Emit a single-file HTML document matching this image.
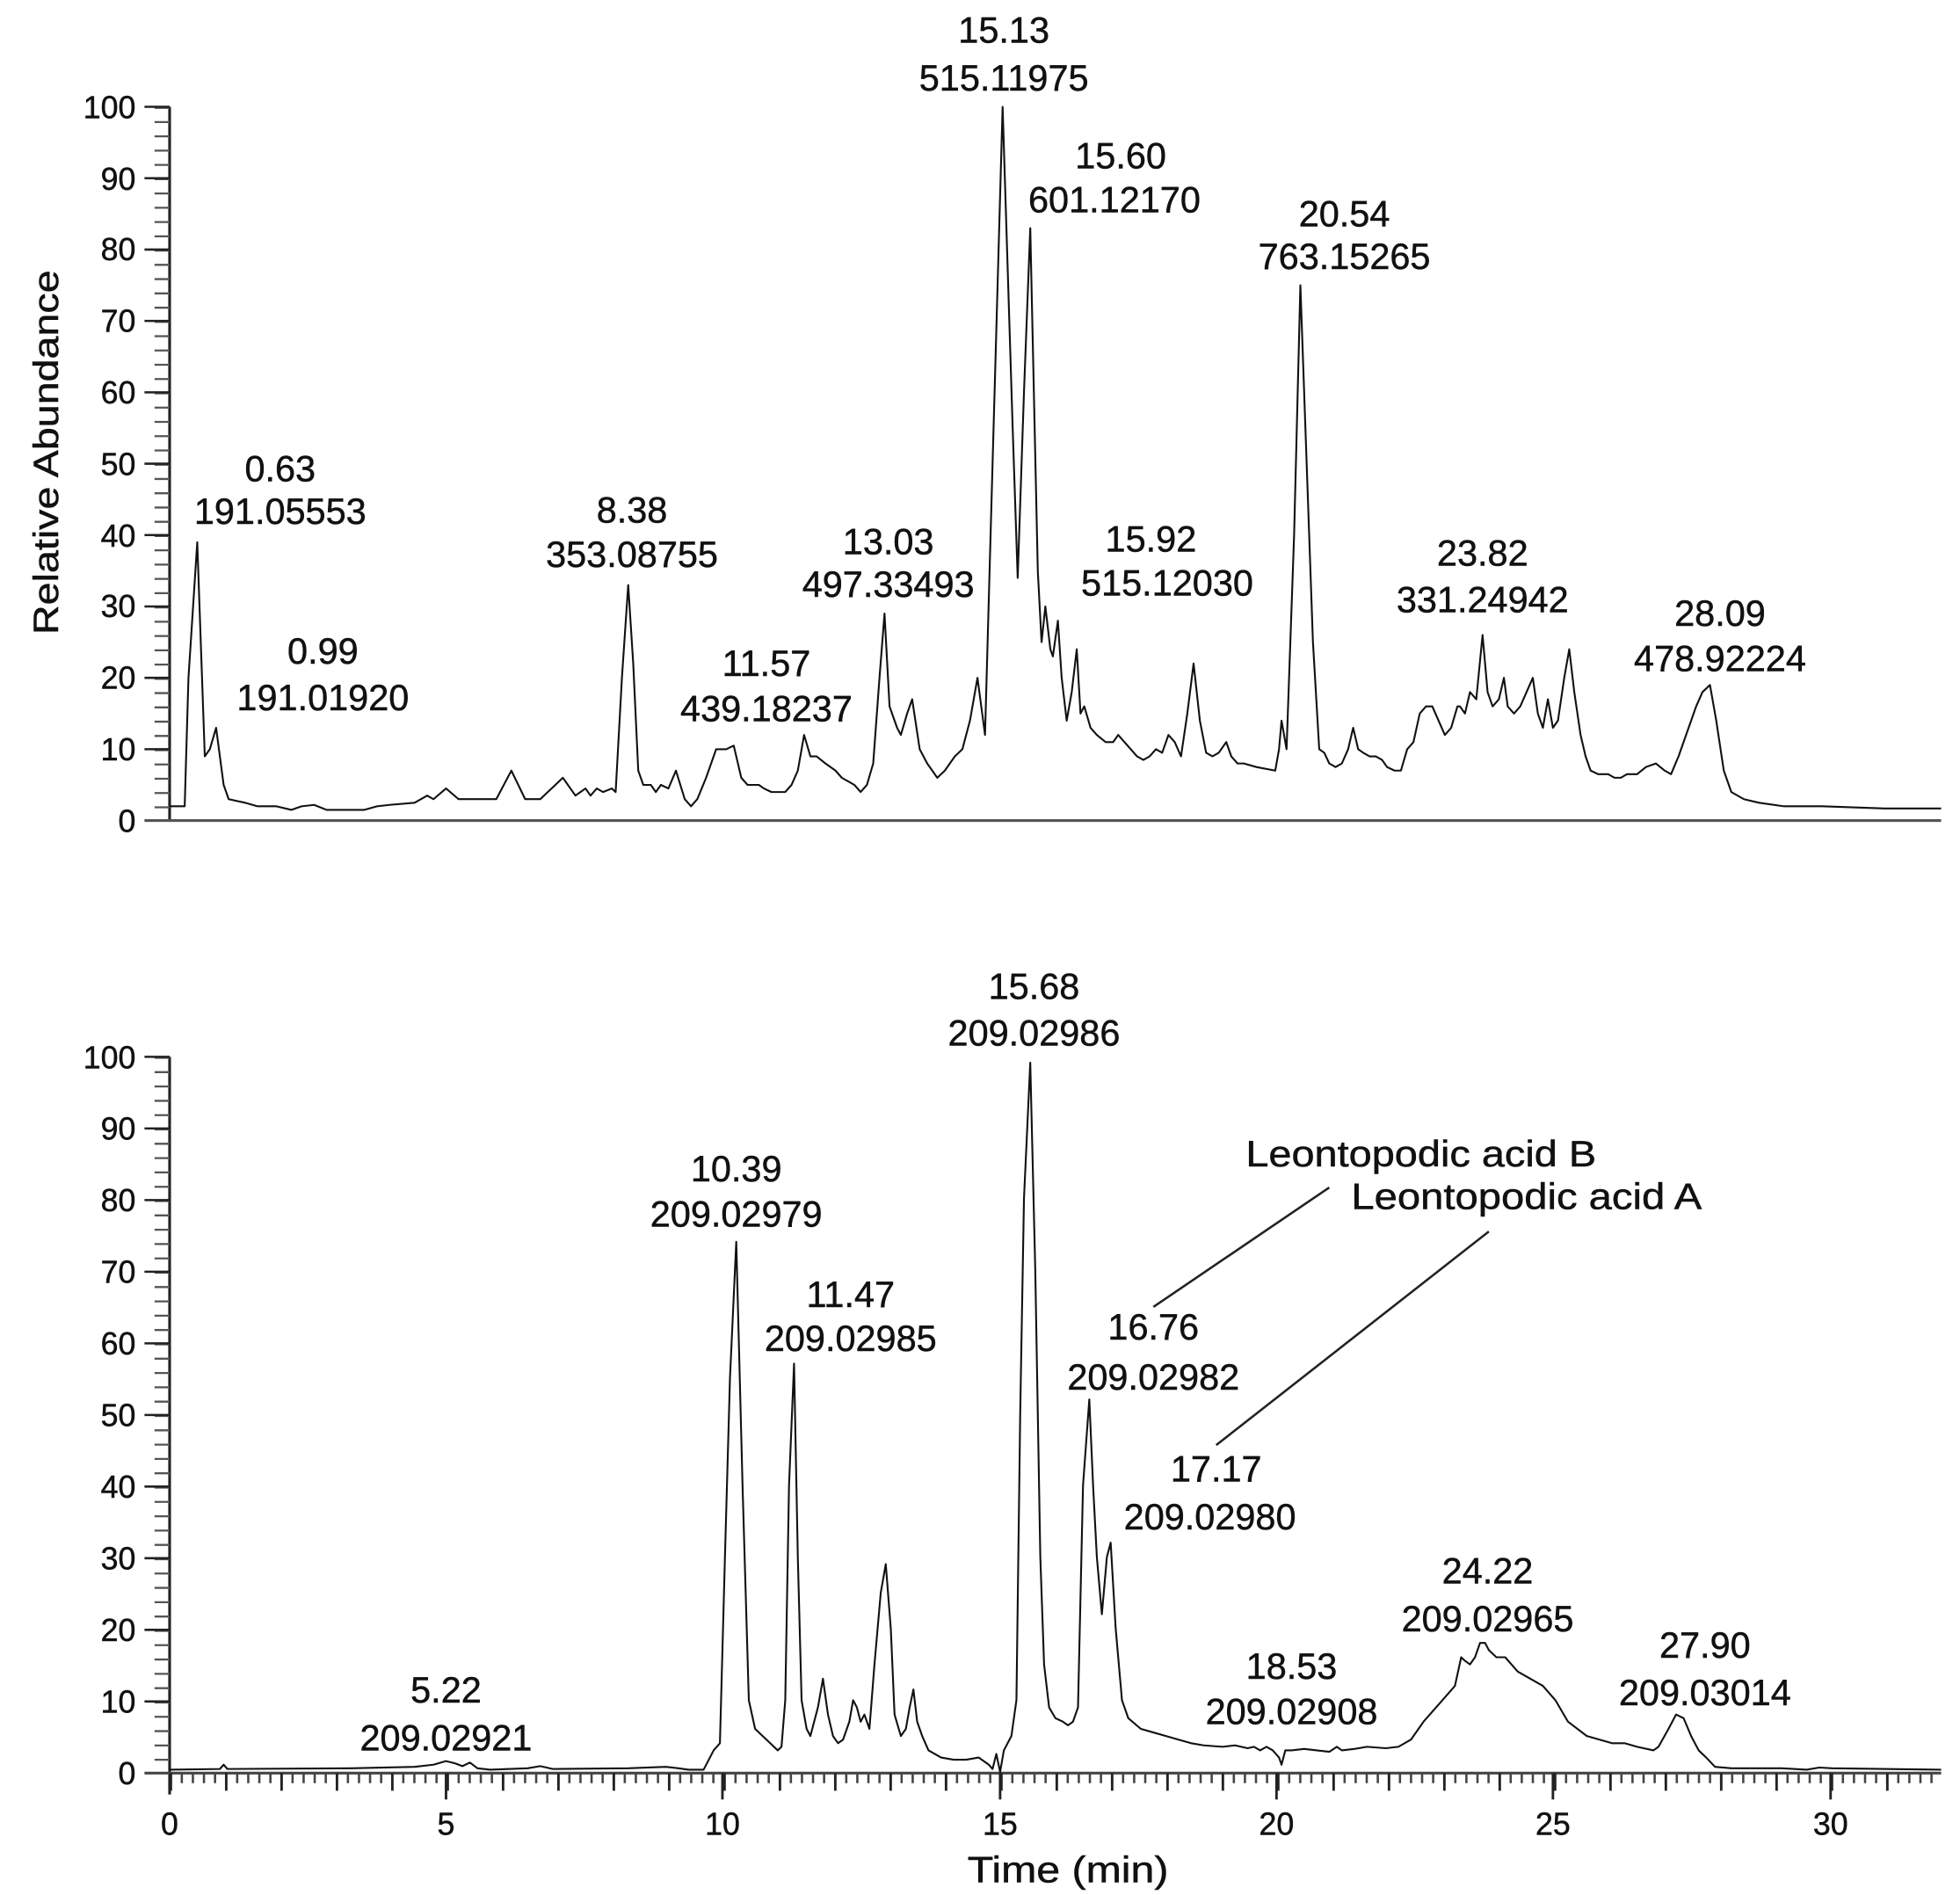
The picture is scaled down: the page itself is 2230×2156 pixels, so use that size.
<!DOCTYPE html>
<html><head><meta charset="utf-8"><style>
html,body{margin:0;padding:0;background:#fff;}
svg{display:block;}
text{font-family:"Liberation Sans",sans-serif;fill:#111;stroke:#111;stroke-width:0.35;}
</style></head><body>
<svg width="2230" height="2156" viewBox="0 0 1560 1508" preserveAspectRatio="none" xmlns="http://www.w3.org/2000/svg">
<rect width="1560" height="1508" fill="#fff"/>
<!-- TOP AXES -->
<g stroke="#222" fill="none">
<line x1="135" y1="85" x2="135" y2="654" stroke-width="2.2"/>
<line x1="115" y1="653" x2="1545" y2="653" stroke="#555" stroke-width="2.2"/>
<line x1="129" y1="85" x2="129" y2="653" stroke-width="12" stroke-dasharray="1.6 9.76" stroke="#555"/>
</g>
<g stroke="#222" stroke-width="1.8">
<line x1="115" y1="85" x2="135" y2="85"/><line x1="115" y1="141.8" x2="135" y2="141.8"/><line x1="115" y1="198.6" x2="135" y2="198.6"/><line x1="115" y1="255.4" x2="135" y2="255.4"/><line x1="115" y1="312.2" x2="135" y2="312.2"/><line x1="115" y1="369" x2="135" y2="369"/><line x1="115" y1="425.8" x2="135" y2="425.8"/><line x1="115" y1="482.6" x2="135" y2="482.6"/><line x1="115" y1="539.4" x2="135" y2="539.4"/><line x1="115" y1="596.2" x2="135" y2="596.2"/>
</g>
<g font-size="25" text-anchor="end">
<text x="108" y="94">100</text><text x="108" y="151">90</text><text x="108" y="207">80</text><text x="108" y="264">70</text><text x="108" y="321">60</text><text x="108" y="378">50</text><text x="108" y="435">40</text><text x="108" y="491">30</text><text x="108" y="548">20</text><text x="108" y="605">10</text><text x="108" y="662">0</text>
</g>
<text transform="translate(46,360) rotate(-90)" font-size="28" text-anchor="middle" textLength="290" lengthAdjust="spacingAndGlyphs">Relative Abundance</text>

<g transform="matrix(1 0 0 -5.68 0 653)">
<polyline fill="none" stroke="#111" stroke-width="2.1" vector-effect="non-scaling-stroke" stroke-linejoin="round" points="135,2 147,2 150,20 157,39 163,9 167,10 172,13 178,5 182,3 195,2.5 205,2 220,2 232,1.5 240,2 250,2.2 260,1.5 270,1.5 290,1.5 300,2 310,2.2 330,2.5 340,3.5 345,3 355,4.5 365,3 375,3 395,3 407,7 418,3 430,3 448,6 458,3.5 462,4 466,4.5 470,3.5 475,4.5 480,4 487,4.5 490,4 495,20 500,33 504,22 508,7 512,5 518,5 522,4 526,5 532,4.5 538,7 545,3 550,2 555,3 562,6 570,10 578,10 584,10.5 590,6 595,5 604,5 608,4.5 614,4 620,4 625,4 630,5 635,7 640,12 645,9 650,9 657,8 665,7 670,6 680,5 685,4 690,5 695,8 700,20 704,29 708,16 714,13 717,12 722,15 726,17 732,10 738,8 746,6 752,7 760,9 766,10 772,14 778,20 784,12 790,50 798,100 806,55 810,34 815,60 820,83 826,35 829,25 832,30 836,24 838,23 842,28 845,20 849,14 853,18 857,24 860,15 863,16 868,13 873,12 880,11 886,11 890,12 895,11 900,10 905,9 910,8.5 915,9 920,10 925,9.5 930,12 935,11 940,9 945,15 950,22 955,14 960,9.5 965,9 970,9.5 976,11 980,9 985,8 990,8 1000,7.5 1015,7 1018,10 1020,14 1024,10 1030,40 1035,75 1040,50 1045,25 1050,10 1054,9.5 1058,8 1063,7.5 1068,8 1073,10 1077,13 1081,10 1085,9.5 1090,9 1095,9 1100,8.5 1104,7.5 1110,7 1115,7 1120,10 1125,11 1130,15 1135,16 1140,16 1145,14 1150,12 1155,13 1160,16 1162,16 1166,15 1170,18 1175,17 1180,26 1184,18 1188,16 1193,17 1197,20 1200,16 1205,15 1210,16 1215,18 1220,20 1224,15 1228,13 1232,17 1236,13 1240,14 1245,20 1249,24 1253,18 1258,12 1262,9 1266,7 1272,6.5 1280,6.5 1285,6 1290,6 1295,6.5 1303,6.5 1310,7.5 1318,8 1325,7 1330,6.5 1336,9 1342,12 1350,16 1355,18 1361,19 1366,14 1372,7 1378,4 1388,3 1400,2.5 1420,2 1450,2 1500,1.7 1545,1.7"/>
</g>
<g font-size="29" text-anchor="middle">
<text x="799" y="34">15.13</text><text x="799" y="72">515.11975</text>
<text x="892" y="134">15.60</text><text x="887" y="169">601.12170</text>
<text x="1070" y="180">20.54</text><text x="1070" y="214">763.15265</text>
<text x="223" y="383">0.63</text><text x="223" y="417">191.05553</text>
<text x="503" y="416">8.38</text><text x="503" y="451">353.08755</text>
<text x="707" y="441">13.03</text><text x="707" y="475">497.33493</text>
<text x="916" y="439">15.92</text><text x="929" y="474">515.12030</text>
<text x="1180" y="450">23.82</text><text x="1180" y="487">331.24942</text>
<text x="257" y="528">0.99</text><text x="257" y="565">191.01920</text>
<text x="610" y="538">11.57</text><text x="610" y="574">439.18237</text>
<text x="1369" y="498">28.09</text><text x="1369" y="534">478.92224</text>
</g>

<!-- BOTTOM AXES -->
<g stroke="#222" fill="none">
<line x1="135" y1="841" x2="135" y2="1428" stroke-width="2.2"/>
<line x1="115" y1="1411" x2="1545" y2="1411" stroke="#444" stroke-width="2.2"/>
<line x1="129" y1="841" x2="129" y2="1411" stroke-width="12" stroke-dasharray="1.6 9.8" stroke="#555"/>
<line x1="135" y1="1415" x2="1545" y2="1415" stroke-width="8" stroke-dasharray="1.8 7.014" stroke="#444"/>
<line x1="135" y1="1418" x2="1545" y2="1418" stroke-width="14" stroke-dasharray="2 42.07"/>
</g>
<g stroke="#222" stroke-width="2">
<line x1="355" y1="1411" x2="355" y2="1432"/><line x1="575" y1="1411" x2="575" y2="1432"/><line x1="796" y1="1411" x2="796" y2="1432"/><line x1="1016" y1="1411" x2="1016" y2="1432"/><line x1="1236" y1="1411" x2="1236" y2="1432"/><line x1="1457" y1="1411" x2="1457" y2="1432"/>
</g>
<g stroke="#222" stroke-width="1.8">
<line x1="115" y1="841" x2="135" y2="841"/><line x1="115" y1="898" x2="135" y2="898"/><line x1="115" y1="955" x2="135" y2="955"/><line x1="115" y1="1012" x2="135" y2="1012"/><line x1="115" y1="1069" x2="135" y2="1069"/><line x1="115" y1="1126" x2="135" y2="1126"/><line x1="115" y1="1183" x2="135" y2="1183"/><line x1="115" y1="1240" x2="135" y2="1240"/><line x1="115" y1="1297" x2="135" y2="1297"/><line x1="115" y1="1354" x2="135" y2="1354"/>
</g>
<g font-size="25" text-anchor="end">
<text x="108" y="850">100</text><text x="108" y="907">90</text><text x="108" y="964">80</text><text x="108" y="1021">70</text><text x="108" y="1078">60</text><text x="108" y="1135">50</text><text x="108" y="1192">40</text><text x="108" y="1249">30</text><text x="108" y="1306">20</text><text x="108" y="1363">10</text><text x="108" y="1420">0</text>
</g>
<g font-size="25" text-anchor="middle">
<text x="135" y="1460">0</text><text x="355" y="1460">5</text><text x="575" y="1460">10</text><text x="796" y="1460">15</text><text x="1016" y="1460">20</text><text x="1236" y="1460">25</text><text x="1457" y="1460">30</text>
</g>
<text x="850" y="1498" font-size="29" text-anchor="middle" textLength="160" lengthAdjust="spacingAndGlyphs">Time (min)</text>

<g transform="matrix(1 0 0 -5.70 0 1410)">
<polyline fill="none" stroke="#111" stroke-width="2.1" vector-effect="non-scaling-stroke" stroke-linejoin="round" points="135,0.3 175,0.4 178,1 181,0.4 280,0.5 330,0.7 345,1 355,1.5 362,1.2 368,0.8 374,1.3 380,0.5 390,0.3 420,0.5 430,0.8 440,0.4 500,0.5 530,0.7 540,0.5 548,0.3 560,0.3 568,3 573,4 577,30 581,55 586,74 591,40 596,10 601,6 607,5 613,4 619,3 622,3.5 625,10 628,40 632,57 635,30 638,10 642,6 645,5 651,9 655,13 659,8 663,5 667,4 671,4.5 676,7 679,10 682,9 685,7 688,8 692,6 696,15 701,25 705,29 709,20 712,8 717,5 721,6 724,9 727,11.5 730,7 734,5 739,3 749,2 759,1.7 769,1.7 779,2 787,1 790,0.4 793,2.5 796,0 799,3 805,5 809,10 812,50 815,80 820,99 824,70 828,30 831,15 835,9 840,7.5 846,7 850,6.5 854,7 858,9 862,40 867,52 870,40 873,30 877,22 881,30 884,32 888,20 893,10 898,7.5 908,6 918,5.5 928,5 938,4.5 948,4 958,3.7 973,3.5 983,3.7 993,3.3 998,3.5 1003,3 1008,3.5 1013,3 1018,2 1020,1 1023,3 1028,3 1038,3.2 1048,3 1058,2.8 1064,3.5 1068,3 1078,3.2 1088,3.5 1103,3.3 1113,3.5 1123,4.5 1133,7 1148,10 1158,12 1163,16 1166,15.5 1170,15 1174,16 1178,18 1182,18 1185,17 1191,16 1198,16 1208,14 1218,13 1228,12 1238,10 1248,7 1263,5 1283,4 1293,4 1303,3.5 1316,3 1320,3.5 1328,6 1334,8 1340,7.5 1346,5 1352,3 1358,2 1365,0.7 1378,0.5 1418,0.5 1438,0.3 1448,0.6 1458,0.5 1545,0.3"/>
</g>
<g stroke="#222" stroke-width="1.8">
<line x1="918" y1="1040" x2="1058" y2="945"/>
<line x1="968" y1="1150" x2="1185" y2="980"/>
</g>
<g font-size="29" text-anchor="middle">
<text x="823" y="795">15.68</text><text x="823" y="832">209.02986</text>
<text x="586" y="940">10.39</text><text x="586" y="976">209.02979</text>
<text x="677" y="1040">11.47</text><text x="677" y="1075">209.02985</text>
<text x="1131" y="928" textLength="279" lengthAdjust="spacingAndGlyphs">Leontopodic acid B</text>
<text x="1215" y="962" textLength="279" lengthAdjust="spacingAndGlyphs">Leontopodic acid A</text>
<text x="918" y="1066">16.76</text><text x="918" y="1106">209.02982</text>
<text x="968" y="1179">17.17</text><text x="963" y="1217">209.02980</text>
<text x="1184" y="1260">24.22</text><text x="1184" y="1298">209.02965</text>
<text x="1028" y="1336">18.53</text><text x="1028" y="1372">209.02908</text>
<text x="1357" y="1319">27.90</text><text x="1357" y="1357">209.03014</text>
<text x="355" y="1355">5.22</text><text x="355" y="1393">209.02921</text>
</g>
</svg>
</body></html>
